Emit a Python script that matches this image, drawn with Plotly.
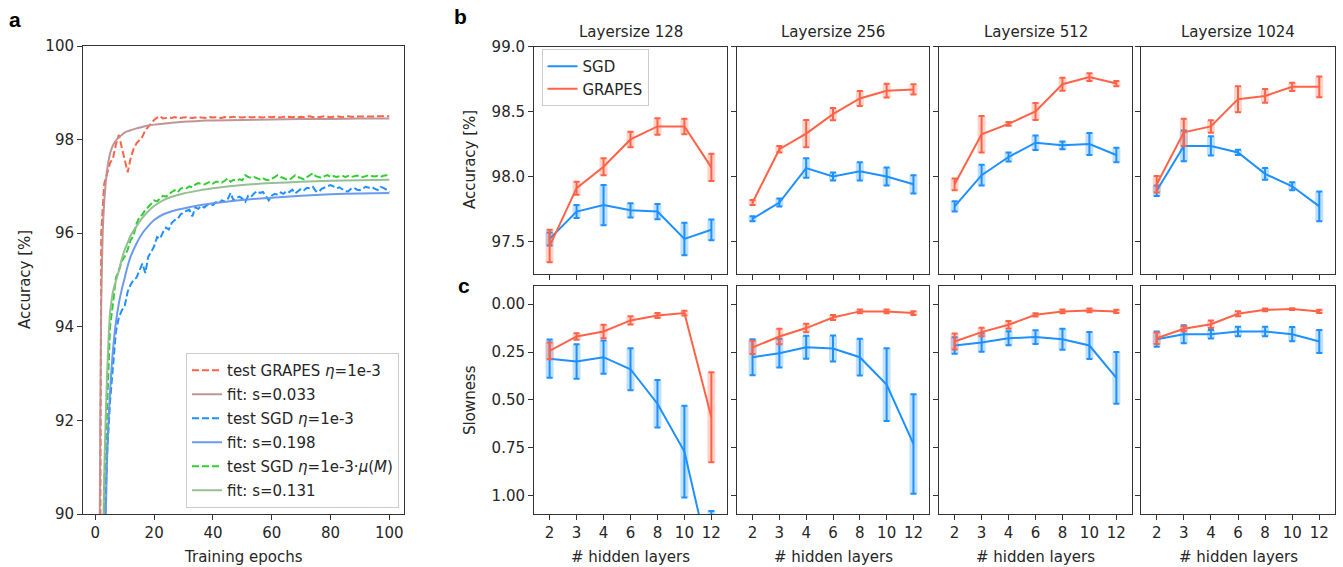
import plotly.graph_objects as go

W, H = 1343, 567

# ---------------- data: panel a ----------------
epochs = list(range(1, 101))
test_grapes = [75.0, 96.0, 97.05, 97.3, 97.5, 97.6, 97.9, 98.1, 97.85, 97.55,
               97.3, 97.6, 97.8, 97.92, 98.0, 98.06, 98.2, 98.28, 98.35, 98.42,
               98.47, 98.5, 98.45, 98.46, 98.47, 98.46, 98.48, 98.47, 98.46, 98.47,
               98.48, 98.47, 98.46, 98.47, 98.48, 98.47, 98.47, 98.46, 98.48, 98.47,
               98.48, 98.47, 98.46, 98.48, 98.47, 98.48, 98.49, 98.47, 98.48, 98.47,
               98.48, 98.49, 98.47, 98.48, 98.49, 98.48, 98.47, 98.49, 98.48, 98.48,
               98.49, 98.48, 98.47, 98.49, 98.48, 98.49, 98.48, 98.49, 98.48, 98.49,
               98.48, 98.49, 98.5, 98.48, 98.49, 98.48, 98.49, 98.5, 98.49, 98.48,
               98.49, 98.5, 98.49, 98.48, 98.49, 98.5, 98.49, 98.49, 98.5, 98.49,
               98.5, 98.49, 98.5, 98.49, 98.5, 98.5, 98.49, 98.5, 98.5, 98.5]
test_sgd = [65.0, 82.0, 89.4, 91.3, 92.4, 93.2, 93.9, 94.2, 94.35, 94.45,
            94.75, 94.9, 95.0, 95.05, 95.2, 95.35, 95.15, 95.5, 95.6, 95.72,
            95.92, 95.88, 96.02, 96.12, 96.08, 96.22, 96.28, 96.3, 96.4, 96.45,
            96.48, 96.5, 96.36, 96.55, 96.52, 96.58, 96.55, 96.6, 96.62, 96.6,
            96.66, 96.63, 96.7, 96.68, 96.72, 96.86, 96.7, 96.75, 96.78, 96.74,
            96.67, 96.8, 96.78, 96.85, 96.9, 96.86, 96.88, 96.8, 96.7, 96.8,
            96.84, 96.82, 96.87, 96.84, 96.9, 96.88, 96.93, 96.85, 96.9, 96.95,
            96.92, 96.97, 96.96, 96.99, 96.9, 96.88, 96.95, 96.98, 97.0, 97.03,
            97.0, 96.96, 96.98, 96.93, 96.9, 96.89, 96.95, 96.97, 96.93, 96.92,
            96.96, 96.99, 96.97, 96.99, 96.95, 96.92, 96.99, 96.97, 96.93, 96.88]
test_sgd_mu = [70.0, 85.0, 90.5, 92.5, 94.0, 94.5, 95.05, 95.2, 95.4, 95.5,
               95.65, 95.85, 95.95, 96.2, 96.35, 96.4, 96.5, 96.56, 96.62, 96.7,
               96.68, 96.75, 96.8, 96.78, 96.84, 96.88, 96.92, 96.87, 96.95, 96.98,
               96.96, 97.0, 96.98, 97.04, 97.07, 97.05, 97.04, 97.07, 97.1, 97.06,
               97.1, 97.1, 97.08, 97.12, 97.17, 97.1, 97.14, 97.12, 97.15, 97.13,
               97.24, 97.2, 97.18, 97.2, 97.17, 97.15, 97.18, 97.14, 97.13, 97.16,
               97.2, 97.24, 97.2, 97.18, 97.15, 97.14, 97.19, 97.24, 97.2, 97.17,
               97.15, 97.2, 97.24, 97.28, 97.22, 97.2, 97.18, 97.22, 97.24, 97.2,
               97.22, 97.2, 97.21, 97.23, 97.2, 97.22, 97.2, 97.21, 97.23, 97.22,
               97.2, 97.22, 97.24, 97.22, 97.21, 97.22, 97.2, 97.23, 97.24, 97.22]

fit_epochs = [1, 1.5, 2, 2.5, 3, 3.5, 4, 4.5, 5, 5.5, 6, 7, 8, 9, 10, 11, 12, 14, 16, 18, 20, 23, 26,
              30, 35, 40, 50, 60, 70, 80, 90, 100]
fit_grapes = [70.0, 90.0, 94.5, 96.0, 96.65, 97.05, 97.35, 97.55, 97.7, 97.8, 97.88, 97.98, 98.05,
              98.1, 98.15, 98.18, 98.2, 98.24, 98.27, 98.3, 98.32, 98.34, 98.36, 98.38, 98.4, 98.41,
              98.42, 98.43, 98.44, 98.44, 98.45, 98.45]
fit_sgd = [55.0, 70.0, 80.0, 85.0, 88.3, 89.8, 91.2, 92.0, 92.6, 93.1, 93.5, 94.1, 94.5, 94.8,
           95.05, 95.3, 95.5, 95.78, 96.0, 96.15, 96.28, 96.4, 96.47, 96.53, 96.59, 96.64, 96.71,
           96.76, 96.8, 96.83, 96.85, 96.86]
fit_sgd_mu = [60.0, 76.0, 84.0, 88.5, 90.8, 92.0, 93.0, 93.75, 94.3, 94.55, 94.75, 94.98, 95.2,
              95.45, 95.65, 95.8, 95.95, 96.15, 96.33, 96.47, 96.58, 96.7, 96.78, 96.85, 96.91,
              96.96, 97.03, 97.07, 97.1, 97.12, 97.13, 97.14]

# ---------------- data: panels b, c ----------------
layers = ["2", "3", "4", "6", "8", "10", "12"]
layer_sizes = ["128", "256", "512", "1024"]

acc_sgd_mean = [
    [97.52, 97.73, 97.78, 97.74, 97.73, 97.52, 97.59],
    [97.675, 97.80, 98.065, 98.00, 98.04, 98.00, 97.94],
    [97.77, 98.01, 98.15, 98.26, 98.24, 98.25, 98.165],
    [97.89, 98.235, 98.235, 98.185, 98.02, 97.925, 97.77],
]
acc_sgd_err = [
    [0.05, 0.05, 0.155, 0.055, 0.058, 0.125, 0.08],
    [0.02, 0.03, 0.075, 0.03, 0.07, 0.07, 0.07],
    [0.04, 0.08, 0.035, 0.056, 0.03, 0.085, 0.056],
    [0.04, 0.118, 0.074, 0.02, 0.045, 0.03, 0.115],
]
acc_grapes_mean = [
    [97.465, 97.91, 98.075, 98.285, 98.385, 98.385, 98.07],
    [97.80, 98.21, 98.33, 98.48, 98.60, 98.66, 98.67],
    [97.94, 98.325, 98.405, 98.50, 98.71, 98.765, 98.715],
    [97.94, 98.34, 98.385, 98.595, 98.62, 98.69, 98.69],
]
acc_grapes_err = [
    [0.125, 0.05, 0.066, 0.06, 0.063, 0.06, 0.105],
    [0.02, 0.025, 0.105, 0.047, 0.058, 0.053, 0.04],
    [0.045, 0.14, 0.015, 0.066, 0.05, 0.03, 0.02],
    [0.063, 0.105, 0.048, 0.1, 0.053, 0.032, 0.08],
]
slow_sgd_mean = [
    [0.285, 0.30, 0.277, 0.34, 0.52, 0.77, 1.38],
    [0.277, 0.256, 0.225, 0.232, 0.277, 0.42, 0.73],
    [0.216, 0.20, 0.178, 0.172, 0.183, 0.216, 0.385],
    [0.183, 0.157, 0.157, 0.143, 0.143, 0.157, 0.195],
]
slow_sgd_err = [
    [0.1, 0.09, 0.087, 0.109, 0.124, 0.24, 0.30],
    [0.094, 0.075, 0.06, 0.068, 0.096, 0.19, 0.26],
    [0.043, 0.048, 0.037, 0.036, 0.055, 0.07, 0.135],
    [0.04, 0.047, 0.022, 0.025, 0.025, 0.037, 0.06],
]
slow_grapes_mean = [
    [0.244, 0.169, 0.143, 0.085, 0.059, 0.047, 0.59],
    [0.226, 0.169, 0.125, 0.07, 0.038, 0.038, 0.047],
    [0.195, 0.146, 0.108, 0.056, 0.038, 0.033, 0.038],
    [0.178, 0.129, 0.105, 0.05, 0.03, 0.026, 0.038],
]
slow_grapes_err = [
    [0.044, 0.017, 0.035, 0.022, 0.013, 0.012, 0.235],
    [0.035, 0.04, 0.022, 0.013, 0.01, 0.01, 0.01],
    [0.042, 0.022, 0.02, 0.008, 0.01, 0.01, 0.008],
    [0.03, 0.013, 0.02, 0.013, 0.007, 0.005, 0.008],
]

# ---------------- styling ----------------
FONT = "DejaVu Sans"
FS = 15
TXT = "#262626"
AX = "#333333"
BLUE = "#1E90FF"
RED = "#FF6347"
BLUE_BAND = "rgba(30,144,255,0.28)"
RED_BAND = "rgba(255,99,71,0.28)"


def fx(px):
    return px / W


def fy(py):
    return 1 - py / H


fig = go.Figure()

# ---------------- panel a ----------------
DASH = "7px,3px"
a_traces = [
    (epochs, test_grapes, "#FF6347", DASH, "test GRAPES <i>η</i>=1e-3", "linear"),
    (fit_epochs, fit_grapes, "rgba(188,143,143,0.95)", "solid", "fit: s=0.033", "spline"),
    (epochs, test_sgd, "#1E90FF", DASH, "test SGD <i>η</i>=1e-3", "linear"),
    (fit_epochs, fit_sgd, "rgba(100,149,237,0.95)", "solid", "fit: s=0.198", "spline"),
    (epochs, test_sgd_mu, "#32CD32", DASH, "test SGD <i>η</i>=1e-3·<i>μ</i>(<i>M</i>)", "linear"),
    (fit_epochs, fit_sgd_mu, "rgba(143,188,143,0.95)", "solid", "fit: s=0.131", "spline"),
]
for i, (xx, yy, col, dash, name, shape) in enumerate(a_traces):
    fig.add_trace(go.Scatter(
        x=xx, y=yy, mode="lines", name=name,
        line=dict(color=col, width=2, dash=dash, shape=shape, smoothing=0.6),
        xaxis="x", yaxis="y", legend="legend", legendgroup=f"a{i}",
    ))

# ---------------- panels b & c ----------------
xidx = list(range(len(layers)))
for c in range(4):
    top = c + 2
    bot = c + 6
    for row_axis, sgd_m, sgd_e, gr_m, gr_e in [
        (top, acc_sgd_mean[c], acc_sgd_err[c], acc_grapes_mean[c], acc_grapes_err[c]),
        (bot, slow_sgd_mean[c], slow_sgd_err[c], slow_grapes_mean[c], slow_grapes_err[c]),
    ]:
        xa, ya = f"x{row_axis}", f"y{row_axis}"
        for m, e, col, band, name in [
            (sgd_m, sgd_e, BLUE, BLUE_BAND, "SGD"),
            (gr_m, gr_e, RED, RED_BAND, "GRAPES"),
        ]:
            fig.add_trace(go.Scatter(
                x=xidx, y=m, mode="markers", marker=dict(size=0.1, opacity=0),
                error_y=dict(type="data", array=e, visible=True, thickness=8, width=0, color=band),
                xaxis=xa, yaxis=ya, showlegend=False, hoverinfo="skip",
            ))
            fig.add_trace(go.Scatter(
                x=xidx, y=m, mode="markers", marker=dict(size=0.1, opacity=0),
                error_y=dict(type="data", array=e, visible=True, thickness=2, width=3, color=col),
                xaxis=xa, yaxis=ya, showlegend=False, hoverinfo="skip",
            ))
            fig.add_trace(go.Scatter(
                x=xidx, y=m, mode="lines", line=dict(color=col, width=2),
                xaxis=xa, yaxis=ya, name=name, legend="legend2", legendgroup=name,
                showlegend=(row_axis == 2),
            ))

# ---------------- axes ----------------
base_axis = dict(
    showline=True, mirror=True, linecolor=AX, linewidth=1,
    ticks="outside", ticklen=5, tickwidth=1, tickcolor=AX,
    showgrid=False, zeroline=False, automargin=False,
    tickfont=dict(family=FONT, size=FS, color=TXT),
)
layout = dict(
    width=W, height=H,
    margin=dict(l=0, r=0, t=0, b=0, pad=0, autoexpand=False),
    paper_bgcolor="white", plot_bgcolor="white",
    font=dict(family=FONT, size=FS, color=TXT),
)
layout["xaxis"] = dict(base_axis, domain=[fx(83), fx(404)], range=[-4.2, 105.0],
                       tickvals=[0, 20, 40, 60, 80, 100], anchor="y")
layout["yaxis"] = dict(base_axis, domain=[fy(514), fy(46)], range=[90, 100],
                       tickvals=[90, 92, 94, 96, 98, 100], anchor="x")

cols_px = [(534, 727), (737, 929), (939, 1132), (1141, 1335)]
for c, (l, r) in enumerate(cols_px):
    top = c + 2
    bot = c + 6
    layout[f"xaxis{top}"] = dict(base_axis, domain=[fx(l), fx(r)], range=[-0.58, 6.58],
                                 tickvals=xidx, ticktext=layers, showticklabels=False,
                                 anchor=f"y{top}")
    layout[f"yaxis{top}"] = dict(base_axis, domain=[fy(274), fy(46.5)], range=[97.25, 99.0],
                                 tickvals=[97.5, 98.0, 98.5, 99.0], tickformat=".1f",
                                 showticklabels=(c == 0), anchor=f"x{top}")
    layout[f"xaxis{bot}"] = dict(base_axis, domain=[fx(l), fx(r)], range=[-0.58, 6.58],
                                 tickvals=xidx, ticktext=layers, anchor=f"y{bot}")
    layout[f"yaxis{bot}"] = dict(base_axis, domain=[fy(514), fy(285.5)], range=[1.0956, -0.0972],
                                 tickvals=[0, 0.25, 0.5, 0.75, 1.0], tickformat=".2f",
                                 showticklabels=(c == 0), anchor=f"x{bot}")

layout["legend"] = dict(
    x=fx(186), y=fy(353), xanchor="left", yanchor="top",
    bgcolor="rgba(255,255,255,0.85)", bordercolor="#cccccc", borderwidth=1,
    font=dict(family=FONT, size=FS, color=TXT), tracegroupgap=1.5,
    itemwidth=30,
)
layout["legend2"] = dict(
    x=fx(541.5), y=fy(49), xanchor="left", yanchor="top",
    bgcolor="rgba(255,255,255,0.85)", bordercolor="#cccccc", borderwidth=1,
    font=dict(family=FONT, size=FS, color=TXT), itemwidth=30, tracegroupgap=0,
)

ann = []


def add_text(x, y, text, size=FS, angle=0, bold=False, family=FONT):
    ann.append(dict(
        x=fx(x), y=fy(y), xref="paper", yref="paper", text=f"<b>{text}</b>" if bold else text,
        showarrow=False, xanchor="center", yanchor="middle", textangle=angle,
        font=dict(family=family, size=size, color="black" if bold else TXT),
    ))


add_text(15, 19, "a", size=21, bold=True, family="Liberation Sans")
add_text(460, 16, "b", size=21, bold=True, family="Liberation Sans")
add_text(464, 285, "c", size=21, bold=True, family="Liberation Sans")
add_text(25, 280, "Accuracy [%]", angle=-90)
add_text(243, 557, "Training epochs")
add_text(470, 160, "Accuracy [%]", angle=-90)
add_text(470, 400, "Slowness", angle=-90)
for c, (l, r) in enumerate(cols_px):
    add_text((l + r) / 2, 31.5, f"Layersize {layer_sizes[c]}")
    add_text((l + r) / 2, 557, "# hidden layers")
layout["annotations"] = ann

fig.update_layout(**layout)
fig.write_html("out.html")
